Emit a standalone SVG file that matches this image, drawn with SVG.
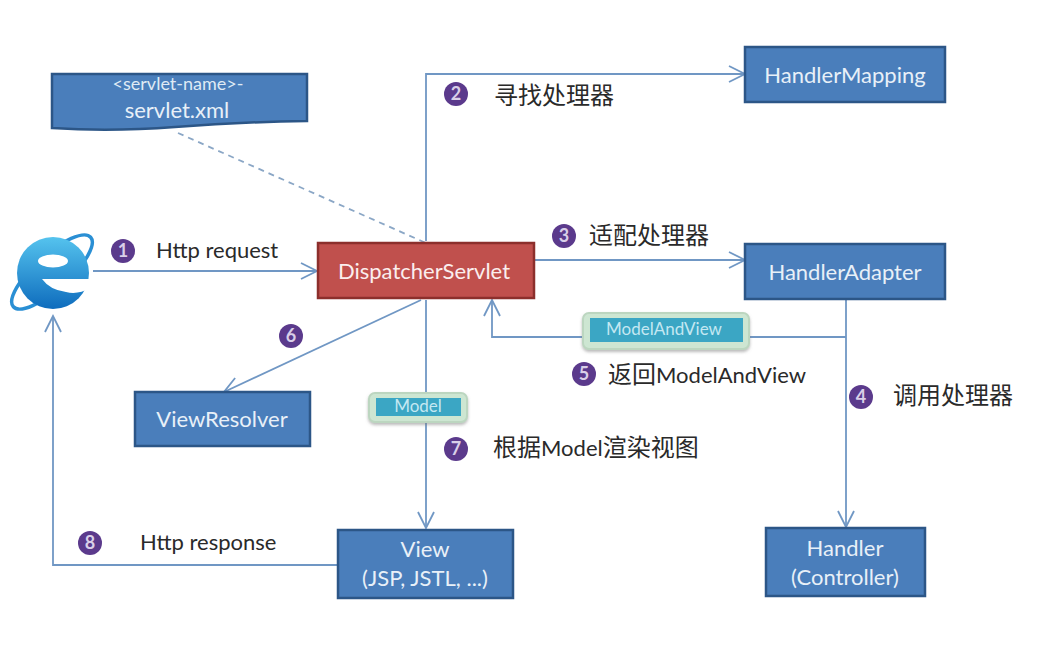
<svg xmlns="http://www.w3.org/2000/svg" width="1052" height="662" viewBox="0 0 1052 662">
<defs>
<style>
text{font-family:Lato,"Liberation Sans","Noto Sans CJK SC",sans-serif}
.box{fill:#4a7ebb;stroke:#2c5687;stroke-width:2.5}
.red{fill:#c0504d;stroke:#8c2f2c;stroke-width:2.5}
.wt{fill:#e8f0f8;font-size:22px;text-anchor:middle}
.lb{fill:#2a2a2a;font-size:22px}
.zh{fill:#2a2a2a;font-size:24px;font-family:Lato,"Noto Sans CJK SC",sans-serif}
.sm{font-size:22px}
.ln{fill:none;stroke:#7097c4;stroke-width:1.8}
.num{fill:#5b3a8c}
.nt{fill:#d9cfe8;font-size:18px;font-weight:700;text-anchor:middle}
.tagb{fill:#cde6d2;stroke:#bcd6c0;stroke-width:2;filter:url(#sh)}
.tag{fill:#3ba6c4}
.tt{fill:#c4e8f2;font-size:17px;text-anchor:middle}
</style>
<filter id="sh" x="-10%" y="-20%" width="120%" height="150%"><feDropShadow dx="0" dy="2" stdDeviation="1.5" flood-color="#777" flood-opacity=".5"/></filter>
<marker id="a" markerWidth="22" markerHeight="22" refX="17" refY="9" orient="auto" markerUnits="userSpaceOnUse"><path d="M1 1L17 9L1 17" fill="none" stroke="#7097c4" stroke-width="1.8"/></marker>
<linearGradient id="ie" x1="0" y1="0" x2="0" y2="1"><stop offset="0" stop-color="#55c3ee"/><stop offset="1" stop-color="#0e6cbd"/></linearGradient>
</defs>
<g id="connectors">
<path class="ln" marker-end="url(#a)" d="M93 271H317"/>
<path class="ln" marker-end="url(#a)" d="M426 241V74H745"/>
<path class="ln" marker-end="url(#a)" d="M534 260H745"/>
<path class="ln" marker-end="url(#a)" d="M846 300V527"/>
<path class="ln" marker-end="url(#a)" d="M846 337H492V300"/>
<path class="ln" marker-end="url(#a)" d="M421 300L224 392"/>
<path class="ln" marker-end="url(#a)" d="M426 300V528"/>
<path class="ln" marker-end="url(#a)" d="M337 565H53V316"/>
<path d="M178 133L426 243" fill="none" stroke="#8ba7c6" stroke-width="1.8" stroke-dasharray="6 5"/>
</g>
<g id="browser">
<ellipse cx="52" cy="272" rx="52" ry="17" transform="rotate(-42 52 272)" fill="none" stroke="#2a8fd4" stroke-width="3.5"/>
<circle cx="53" cy="273" r="36" fill="url(#ie)"/>
<ellipse cx="53" cy="261" rx="15" ry="6.5" fill="#fff"/>
<path d="M42 279H91L90 288Q78 295 66 292Q50 290 42 279Z" fill="#fff"/>
</g>
<g id="servlet-xml">
<path class="box" d="M52 74H307V121Q240 122 175 127Q110 132 52 128Z"/>
<text x="178" y="90" fill="#dfeaf5" font-size="18" text-anchor="middle">&lt;servlet-name&gt;-</text>
<text x="177" y="118" class="wt">servlet.xml</text>
</g>
<g id="dispatcher-servlet">
<rect class="red" x="318" y="243" width="216" height="55"/>
<text x="424" y="279" fill="#fbeeee" font-size="22" text-anchor="middle">DispatcherServlet</text>
</g>
<g id="handler-mapping">
<rect class="box" x="745" y="47" width="200" height="55"/>
<text x="845" y="83" class="wt">HandlerMapping</text>
</g>
<g id="handler-adapter">
<rect class="box" x="745" y="244" width="200" height="55"/>
<text x="845" y="280" class="wt">HandlerAdapter</text>
</g>
<g id="view-resolver">
<rect class="box" x="135" y="392" width="175" height="54"/>
<text x="222" y="427" class="wt">ViewResolver</text>
</g>
<g id="view">
<rect class="box" x="338" y="530" width="175" height="68"/>
<text x="425" y="557" class="wt">View</text>
<text x="425" y="586" class="wt">(JSP, JSTL, ...)</text>
</g>
<g id="handler">
<rect class="box" x="766" y="528" width="159" height="68"/>
<text x="845" y="556" class="wt">Handler</text>
<text x="845" y="585" class="wt">(Controller)</text>
</g>
<g id="tag-model-and-view">
<rect class="tagb" x="583" y="313" width="166" height="36" rx="6"/>
<rect class="tag" x="590" y="318" width="153" height="24"/>
<text x="664" y="335" class="tt">ModelAndView</text>
</g>
<g id="tag-model">
<rect class="tagb" x="369" y="393" width="98" height="29" rx="6"/>
<rect class="tag" x="376" y="398" width="85" height="18"/>
<text x="418" y="412" class="tt">Model</text>
</g>
<g id="step-1"><circle class="num" cx="123" cy="251" r="12"/><text class="nt" x="123" y="257">1</text><text class="lb" x="156" y="258">Http request</text></g>
<g id="step-2"><circle class="num" cx="456" cy="94" r="12"/><text class="nt" x="456" y="100">2</text><text class="zh" x="494" y="104">寻找处理器</text></g>
<g id="step-3"><circle class="num" cx="564" cy="236" r="12"/><text class="nt" x="564" y="242">3</text><text class="zh" x="589" y="244">适配处理器</text></g>
<g id="step-4"><circle class="num" cx="861" cy="397" r="12"/><text class="nt" x="861" y="403">4</text><text class="zh" x="893" y="404">调用处理器</text></g>
<g id="step-5"><circle class="num" cx="584" cy="374" r="12"/><text class="nt" x="584" y="380">5</text><text class="zh" x="608" y="383">返回<tspan class="sm">ModelAndView</tspan></text></g>
<g id="step-6"><circle class="num" cx="291" cy="336" r="12"/><text class="nt" x="291" y="342">6</text></g>
<g id="step-7"><circle class="num" cx="456" cy="449" r="12"/><text class="nt" x="456" y="455">7</text><text class="zh" x="493" y="456">根据<tspan class="sm">Model</tspan>渲染视图</text></g>
<g id="step-8"><circle class="num" cx="90" cy="543" r="12"/><text class="nt" x="90" y="549">8</text><text class="lb" x="140" y="550">Http response</text></g>
</svg>
